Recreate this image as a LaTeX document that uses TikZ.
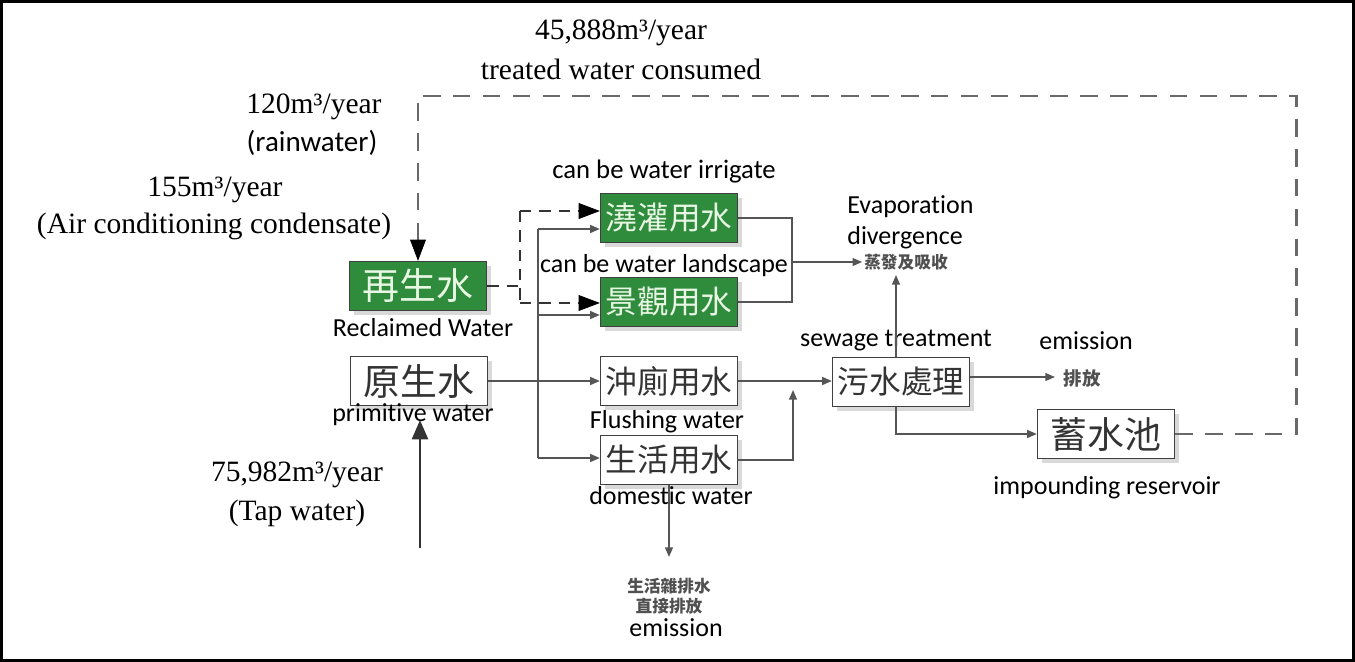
\documentclass[tikz,border=0pt]{standalone}
\usepackage{fontspec}
\setmainfont{Liberation Serif}
\newfontfamily\cjkfont{Noto Sans CJK TC}
\newfontfamily\calfont[Ligatures=NoCommon]{Carlito}
\usetikzlibrary{arrows.meta, shadows}
\definecolor{recgreen}{RGB}{47,140,60}
\definecolor{boxtext}{RGB}{232,246,228}
\definecolor{edgegray}{RGB}{85,85,85}
\definecolor{dashgray}{RGB}{105,105,105}
\definecolor{notegray}{RGB}{80,80,80}

\begin{document}
\begin{tikzpicture}[x=0.02cm, y=-0.02cm,
    unitbox/.style={draw=black!75, line width=0.8pt, minimum width=2.74cm, minimum height=0.98cm, inner sep=0pt,
        drop shadow={shadow xshift=2.5pt, shadow yshift=-2.5pt, opacity=0.3}},
    greenbox/.style={unitbox, fill=recgreen, text=boxtext},
    plainbox/.style={unitbox, fill=white, text=black!80},
    cjkthree/.style={font=\cjkfont\fontsize{21}{24}\selectfont},
    cjkfour/.style={font=\cjkfont\fontsize{18}{21}\selectfont},
    lbl/.style={font=\calfont\fontsize{14.8}{17}\selectfont, inner sep=0pt},
    amount/.style={font=\fontsize{16.8}{19}\selectfont, inner sep=0pt},
    note/.style={font=\cjkfont\bfseries\fontsize{9.5}{11.4}\selectfont, text=notegray, inner sep=1pt},
    pipe/.style={draw=edgegray, line width=0.85pt},
    flow/.style={pipe, -{Triangle[length=5.5pt, width=4.5pt]}},
    recycle/.style={draw=dashgray, line width=1.7pt, dash pattern=on 10pt off 7pt},
    recsplit/.style={draw=black!80, line width=1.5pt, dash pattern=on 6.5pt off 4.5pt},
    bigtip/.style={-{Triangle[length=12pt, width=9pt, line width=0.4pt, color=black, fill=black]}},
    feed/.style={draw=black!80, line width=1.7pt, -{Triangle[length=11pt, width=9pt]}}]
        \useasboundingbox (0,0) rectangle (1355,662);
        \draw [line width=1.7pt] (1.5,1.5) rectangle (1353.5,660.5);
        %
        \node [greenbox, cjkthree] (rec) at (418,286) {再生水};
        \node [plainbox, cjkthree] (raw) at (419,381) {原生水};
        \node [greenbox, cjkfour] (irr) at (669,218) {澆灌用水};
        \node [greenbox, cjkfour] (land) at (669,302) {景觀用水};
        \node [plainbox, cjkfour] (flush) at (669,381) {沖廁用水};
        \node [plainbox, cjkfour] (dom) at (669,460) {生活用水};
        \node [plainbox, cjkfour] (sew) at (901,382) {污水處理};
        \node [plainbox, cjkthree] (res) at (1106,434) {蓄水池};
        %
        \node [amount] (used1) at (621,33) {45,888m³/year};
        \node [amount] (used2) at (621,69) {treated water consumed};
        \node [amount] (rain1) at (314,107) {120m³/year};
        \node [lbl, font=\calfont\fontsize{16.5}{19}\selectfont] (rain2) at (312,143) {(rainwater)};
        \node [amount] (cond1) at (215,190) {155m³/year};
        \node [amount] (cond2) at (214,226) {(Air conditioning condensate)};
        \node [amount] (tap1) at (297,475) {75,982m³/year};
        \node [amount] (tap2) at (297,513) {(Tap water)};
        %
        \node [lbl, font=\calfont\fontsize{15.2}{17}\selectfont] (irrlbl) at (664,172) {can be water irrigate};
        \node [lbl] (landlbl) at (664,266) {can be water landscape};
        \node [lbl] (reclbl) at (423,328) {Reclaimed Water};
        \node [lbl] (rawlbl) at (413,415) {primitive water};
        \node [lbl] (flushlbl) at (667,422) {Flushing water};
        \node [lbl] (domlbl) at (671,496) {domestic water};
        \node [lbl] (sewlbl) at (896,341) {sewage treatment};
        \node [lbl] (outlbl) at (1086,341) {emission};
        \node [lbl] (reslbl) at (1107,488) {impounding reservoir};
        \node [lbl, anchor=west] (evlbl1) at (847,207) {Evaporation};
        \node [lbl, anchor=west] (evlbl2) at (847,238) {divergence};
        \node [note] (evap) at (906,262) {蒸發及吸收};
        \node [note, font=\cjkfont\bfseries\fontsize{10.5}{12}\selectfont] (out) at (1082,378) {排放};
        \node [note, align=center] (drain) at (669,596) {生活雜排水\\直接排放};
        \node [lbl] (drainlbl) at (676,628) {emission};
        %
        \coordinate (rt) at (1296,96);
        \coordinate (dsplit) at (520,286);
        \coordinate (dtop) at (520,211);
        \coordinate (dbot) at (520,303);
        \coordinate (stop) at (538,229);
        \coordinate (smid) at (538,315);
        \coordinate (sbot) at (538,458);
        \coordinate (evj) at (792,262);
        \coordinate (domj) at (793,390);
        \coordinate (evup) at (896,275);
        \coordinate (outp) at (1055,377);
        \coordinate (drainp) at (669,557);
        \coordinate (tapin) at (420,548);
        \coordinate (tapend) at (420,420);
        %
        \draw [recycle, bigtip] (res.east) -| (rt) -| (rec.north);
        \draw [recsplit] (rec.east) -- (dsplit);
        \draw [recsplit] (dtop) -- (dbot);
        \draw [recsplit, bigtip] (dtop) -- (dtop -| irr.west);
        \draw [recsplit, bigtip] (dbot) -- (dbot -| land.west);
        %
        \draw [flow] (raw.east) -- (raw.east -| flush.west);
        \draw [pipe] (stop) -- (sbot);
        \draw [flow] (stop) -- (stop -| irr.west);
        \draw [flow] (smid) -- (smid -| land.west);
        \draw [flow] (sbot) -- (sbot -| dom.west);
        \draw [pipe] (irr.east) -| (evj) |- (land.east);
        \draw [flow] (evj) -- (evap.west);
        \draw [flow] (flush.east) -- (flush.east -| sew.west);
        \draw [flow] (dom.east) -| (domj);
        \draw [flow] (dom.south) -- (drainp);
        \draw [flow] (sew.north -| evup) -- (evup);
        \draw [flow] (sew.east |- outp) -- (outp);
        \draw [flow] (sew.south -| evup) |- (res.west);
        \draw [feed] (tapin) -- (tapend);
\end{tikzpicture}
\end{document}
